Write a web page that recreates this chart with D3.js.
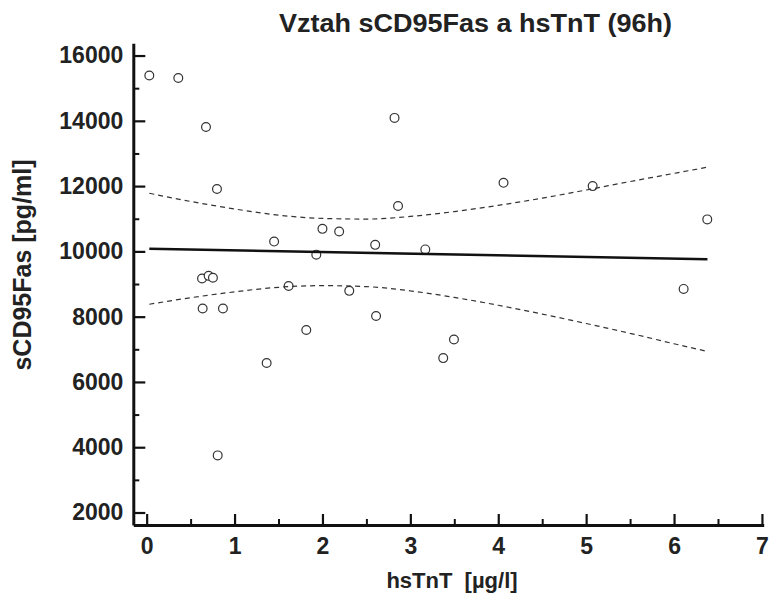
<html>
  <head>
    <meta charset="UTF-8">
    <script src="https://d3js.org/d3.v7.min.js"></script>
    <style>
      body {
        margin: 0;
        background: #fff;
        font-family: "Liberation Sans", Arial, Helvetica, sans-serif;
      }

      text {
        font-weight: bold;
        fill: #222;
      }

      .axis path,
      .axis line {
        stroke: #111;
      }
    </style>
  </head>
  <body>
    <svg width="772" height="596"></svg>
    <script>
      // measured points (hsTnT, sCD95Fas)
      const hsTnT = [0.03, 0.36, 0.675, 2.82, 0.80, 2.86, 2.00, 2.19, 1.45, 2.60,
        3.17, 1.93, 0.63, 0.705, 0.754, 1.615, 2.305, 0.637, 0.868, 2.61,
        1.816, 1.365, 3.374, 0.808, 3.496, 4.06, 5.074, 6.378, 6.109];
      const sCD95Fas = [15390, 15310, 13810, 14090, 11910, 11390, 10690, 10610, 10300, 10200,
        10060, 9900, 9170, 9250, 9190, 8940, 8790, 8250, 8250, 8020,
        7590, 6580, 6730, 3750, 7300, 12100, 12000, 10980, 8850];

      // regression line ends
      const fitX = [0.03, 6.38];
      const fitY = [10080, 9760];

      // confidence band
      const bandX = [0.03, 0.5, 1.0, 1.5, 2.0, 2.5, 3.0, 3.5, 4.0, 4.5, 5.0, 5.5, 6.0, 6.38];
      const bandUpper = [11780, 11530, 11300, 11110, 11010, 10990, 11070, 11220, 11410, 11630, 11880, 12140, 12390, 12580];
      const bandLower = [8380, 8580, 8760, 8900, 8950, 8920, 8790, 8590, 8350, 8080, 7790, 7490, 7170, 6935];

      const xMajor = [0, 1, 2, 3, 4, 5, 6, 7];
      const xMinor = [0.5, 1.5, 2.5, 3.5, 4.5, 5.5, 6.5];
      const yMajor = [2000, 4000, 6000, 8000, 10000, 12000, 14000, 16000];
      const yMinor = [3000, 5000, 7000, 9000, 11000, 13000, 15000];

      const svg = d3.select("svg");

      const x = d3.scaleLinear().domain([-0.152, 7.02]).range([133.3, 763.7]);
      const y = d3.scaleLinear().domain([1617, 16375]).range([525, 43.3]);

      // minor ticks first
      svg.append("g")
        .attr("class", "axis")
        .attr("transform", `translate(0,${y.range()[0]})`)
        .call(d3.axisBottom(x).tickValues(xMinor).tickSize(-6).tickFormat(""))
        .call((g) => g.select(".domain").remove())
        .selectAll("line").attr("stroke-width", 2);

      svg.append("g")
        .attr("class", "axis")
        .attr("transform", `translate(${x.range()[0]},0)`)
        .call(d3.axisLeft(y).tickValues(yMinor).tickSize(-6).tickFormat(""))
        .call((g) => g.select(".domain").remove())
        .selectAll("line").attr("stroke-width", 2);

      const xAxis = svg.append("g")
        .attr("class", "axis")
        .attr("transform", `translate(0,${y.range()[0]})`)
        .call(d3.axisBottom(x).tickValues(xMajor).tickSize(-11).tickSizeOuter(0).tickPadding(13));
      xAxis.select(".domain").attr("stroke-width", 3);
      xAxis.selectAll("line").attr("stroke-width", 2.2);
      xAxis.selectAll("text")
        .attr("font-size", 23)
        .attr("font-family", "'Liberation Sans', Arial, sans-serif")
        .attr("fill", "#222");

      const yAxis = svg.append("g")
        .attr("class", "axis")
        .attr("transform", `translate(${x.range()[0]},0)`)
        .call(d3.axisLeft(y).tickValues(yMajor).tickSize(-12).tickSizeOuter(0).tickPadding(10).tickFormat(d3.format("d")));
      yAxis.select(".domain").attr("stroke-width", 3);
      yAxis.selectAll("line").attr("stroke-width", 2.2);
      yAxis.selectAll("text")
        .attr("font-size", 23)
        .attr("font-family", "'Liberation Sans', Arial, sans-serif")
        .attr("fill", "#222");

      // points
      svg.append("g")
        .selectAll("circle")
        .data(hsTnT.map((d, i) => [d, sCD95Fas[i]]))
        .join("circle")
        .attr("cx", (d) => x(d[0]))
        .attr("cy", (d) => y(d[1]))
        .attr("r", 4.4)
        .attr("fill", "#fff")
        .attr("stroke", "#333")
        .attr("stroke-width", 1.2);

      // confidence band
      const band = d3.line()
        .x((d) => x(d[0]))
        .y((d) => y(d[1]))
        .curve(d3.curveMonotoneX);

      [bandUpper, bandLower].forEach((vals) => {
        svg.append("path")
          .datum(bandX.map((d, i) => [d, vals[i]]))
          .attr("d", band)
          .attr("fill", "none")
          .attr("stroke", "#333")
          .attr("stroke-width", 1.2)
          .attr("stroke-dasharray", "5 4");
      });

      // regression line
      svg.append("path")
        .datum(fitX.map((d, i) => [d, fitY[i]]))
        .attr("d", band)
        .attr("fill", "none")
        .attr("stroke", "#111")
        .attr("stroke-width", 2.6);

      // titles
      svg.append("text")
        .attr("x", 475.5)
        .attr("y", 32)
        .attr("text-anchor", "middle")
        .attr("font-size", 25)
        .attr("textLength", 393)
        .attr("lengthAdjust", "spacingAndGlyphs")
        .text("Vztah sCD95Fas a hsTnT (96h)");

      svg.append("text")
        .attr("x", 452)
        .attr("y", 588)
        .attr("text-anchor", "middle")
        .attr("font-size", 22)
        .style("white-space", "pre")
        .text("hsTnT  [µg/l]");

      svg.append("text")
        .attr("transform", "translate(31,265) rotate(-90)")
        .attr("text-anchor", "middle")
        .attr("font-size", 25)
        .text("sCD95Fas [pg/ml]");
    </script>
  </body>
</html>
